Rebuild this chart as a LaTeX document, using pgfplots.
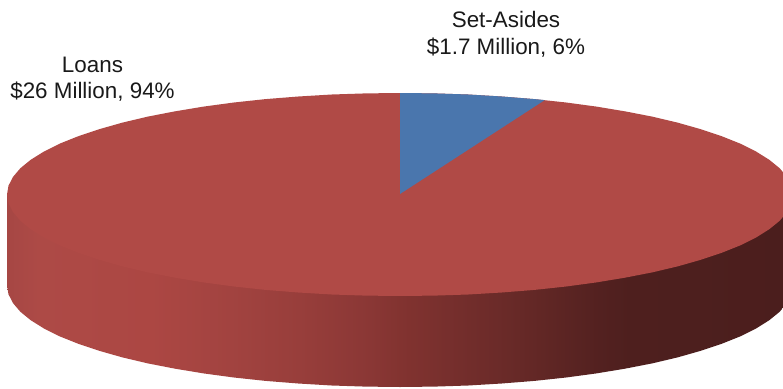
\documentclass[border=0pt]{standalone}
\usepackage{fontspec}
\setmainfont{Liberation Sans}
\usepackage{pgfplots}
\pgfplotsset{compat=1.18}

\definecolor{loansred}{RGB}{176,74,70}
\definecolor{setasideblue}{RGB}{74,118,173}

% Rim of the disc: light on the left, falling to a deep shade on the right.
\pgfdeclarehorizontalshading{rimshade}{100bp}{
  rgb(0bp)=(0.651,0.278,0.267);
  rgb(25bp)=(0.651,0.278,0.267);
  rgb(27bp)=(0.678,0.290,0.275);
  rgb(34.1bp)=(0.675,0.278,0.263);
  rgb(39.2bp)=(0.635,0.263,0.251);
  rgb(43.6bp)=(0.596,0.243,0.231);
  rgb(48.1bp)=(0.541,0.216,0.208);
  rgb(50bp)=(0.510,0.200,0.188);
  rgb(53.8bp)=(0.455,0.180,0.173);
  rgb(58.3bp)=(0.392,0.157,0.149);
  rgb(62.7bp)=(0.325,0.129,0.125);
  rgb(64.6bp)=(0.306,0.122,0.118);
  rgb(75bp)=(0.294,0.118,0.114);
  rgb(100bp)=(0.294,0.118,0.114)}

\begin{document}
\begin{tikzpicture}
% The disc runs past the right edge, so the page is fixed to the axis box.
\path[use as bounding box] (0,0) rectangle (783pt,388pt);
\begin{axis}[
  at={(0,0)}, anchor=south west,
  scale only axis,
  width=783pt, height=388pt,
  xmin=0, xmax=783, ymin=0, ymax=388,
  y dir=reverse,
  hide axis,
]
% Rim: lower half of the disc outline, 91 units below the top face
\addplot[draw=none, shade, shading=rimshade] coordinates {
  (7,194.5) (7,285.5) (8.5,294.3) (13,303.1) (20.4,311.8) (30.7,320.2) (43.8,328.4)
  (59.6,336.3) (78.1,343.7) (98.9,350.7) (122.1,357.3) (147.4,363.3) (174.6,368.6)
  (203.5,373.4) (233.9,377.5) (265.6,380.9) (298.3,383.5) (331.8,385.5) (365.7,386.6)
  (400,387) (434.3,386.6) (468.2,385.5) (501.7,383.5) (534.4,380.9) (566.1,377.5)
  (596.5,373.4) (625.4,368.6) (652.6,363.3) (677.9,357.3) (701.1,350.7) (721.9,343.7)
  (740.4,336.3) (756.2,328.4) (769.3,320.2) (779.6,311.8) (787,303.1) (791.5,294.3)
  (793,285.5) (793,194.5)
} -- cycle;

% Top face: Loans, 94%
\addplot[draw=none, fill=loansred] coordinates {
  (7,194.5) (8.5,203.3) (13,212.1) (20.4,220.8) (30.7,229.2) (43.8,237.4)
  (59.6,245.3) (78.1,252.7) (98.9,259.7) (122.1,266.3) (147.4,272.3) (174.6,277.6)
  (203.5,282.4) (233.9,286.5) (265.6,289.9) (298.3,292.5) (331.8,294.5) (365.7,295.6)
  (400,296) (434.3,295.6) (468.2,294.5) (501.7,292.5) (534.4,289.9) (566.1,286.5)
  (596.5,282.4) (625.4,277.6) (652.6,272.3) (677.9,266.3) (701.1,259.7) (721.9,252.7)
  (740.4,245.3) (756.2,237.4) (769.3,229.2) (779.6,220.8) (787,212.1) (791.5,203.3)
  (793,194.5)
  (791.5,185.7) (787,176.9) (779.6,168.2) (769.3,159.8) (756.2,151.6) (740.4,143.7)
  (721.9,136.3) (701.1,129.3) (677.9,122.7) (652.6,116.7) (625.4,111.4) (596.5,106.6)
  (566.1,102.5) (534.4,99.1) (501.7,96.5) (468.2,94.5) (434.3,93.4) (400,93)
  (365.7,93.4) (331.8,94.5) (298.3,96.5) (265.6,99.1) (233.9,102.5) (203.5,106.6)
  (174.6,111.4) (147.4,116.7) (122.1,122.7) (98.9,129.3) (78.1,136.3) (59.6,143.7)
  (43.8,151.6) (30.7,159.8) (20.4,168.2) (13,176.9) (8.5,185.7)
} -- cycle;

% Top face: Set-Asides, 6%
\addplot[draw=none, fill=setasideblue] coordinates {
  (400,194) (400,93) (434.3,93.4) (468.2,94.5) (501.7,96.5) (534.4,99.1) (544.7,100.1)
} -- cycle;

\node[align=center, font=\fontsize{22.4}{26.5}\selectfont, text=black!90] at (axis cs:92.5,79) {Loans\\\$26 Million, 94\%};
\node[align=center, font=\fontsize{22.4}{26.5}\selectfont, text=black!90] at (axis cs:506,34.5) {Set-Asides\\\$1.7 Million, 6\%};
\end{axis}
\end{tikzpicture}
\end{document}
